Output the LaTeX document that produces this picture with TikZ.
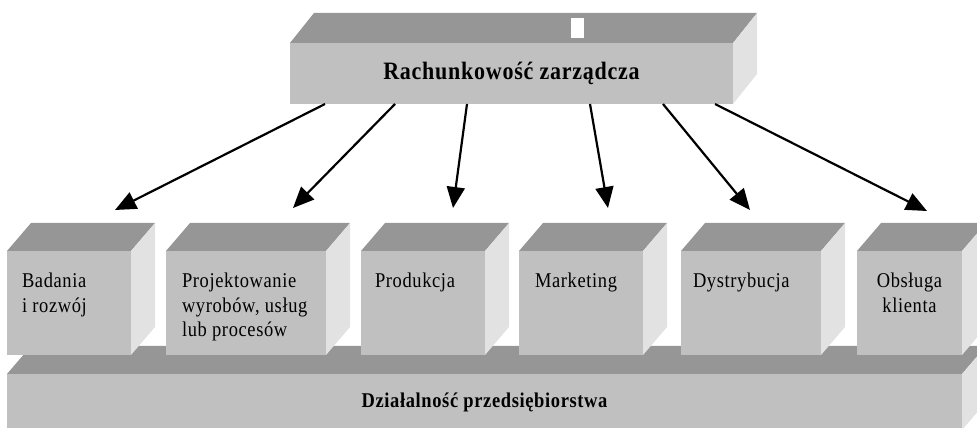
\documentclass[tikz,border=0pt]{standalone}
\usepackage{fontspec}
\setmainfont{Liberation Serif}
\newfontfamily\narrowserif[FakeStretch=0.88,LetterSpace=3]{Liberation Serif}
\usetikzlibrary{arrows.meta,calc}

\definecolor{frontc}{RGB}{192,192,192}
\definecolor{topc}{RGB}{150,150,150}
\definecolor{sidec}{RGB}{226,226,226}

\tikzset{
  face/.style={rectangle, fill=frontc, draw=none, inner sep=0pt, outer sep=0pt, anchor=south west},
  unit/.style={face, minimum height=104pt},
  lbl/.style={inner sep=0pt, outer sep=0pt, align=left, anchor=north west,
              font=\narrowserif\fontsize{21}{24.5}\selectfont},
  flow/.style={line width=2.2pt, -{Triangle[length=21pt,width=18pt]}},
}

% top and side faces of a block seen from the front right
\newcommand{\blockfaces}[3]{%
  \fill[topc] (#1.north west) -- ++(#2,#3) -- ([shift={(#2,#3)}]#1.north east) -- (#1.north east) -- cycle;
  \fill[sidec] (#1.north east) -- ++(#2,#3) -- ([shift={(#2,#3)}]#1.south east) -- (#1.south east) -- cycle;
}

\begin{document}
\begin{tikzpicture}[x=1pt,y=1pt]
\useasboundingbox (0,0) rectangle (977,428);
\clip (0,0) rectangle (977,428);

% base: company activity
\node[face, minimum width=955pt, minimum height=56pt,
      font=\narrowserif\fontsize{21}{24}\selectfont\bfseries] (base) at (7,-2) {Działalność przedsiębiorstwa};
\blockfaces{base}{24pt}{28pt}

% functional units standing on the base
\node[unit, minimum width=124pt] (b1) at (7,73) {};
\node[unit, minimum width=160pt] (b2) at (166,73) {};
\node[unit, minimum width=124pt] (b3) at (361,73) {};
\node[unit, minimum width=124pt] (b4) at (519,73) {};
\node[unit, minimum width=140pt] (b5) at (681,73) {};
\node[unit, minimum width=105pt] (b6) at (857,73) {};
\foreach \n in {b1,b2,b3,b4,b5,b6} {\blockfaces{\n}{24pt}{28pt}}

\node[lbl] (t1) at ([shift={(15pt,-22pt)}]b1.north west) {Badania\\i rozwój};
\node[lbl] (t2) at ([shift={(16pt,-22pt)}]b2.north west) {Projektowanie\\wyrobów, usług\\lub procesów};
\node[lbl] (t3) at ([shift={(14pt,-22pt)}]b3.north west) {Produkcja};
\node[lbl] (t4) at ([shift={(16pt,-22pt)}]b4.north west) {Marketing};
\node[lbl] (t5) at ([shift={(12pt,-22pt)}]b5.north west) {Dystrybucja};
\node[lbl, align=center, anchor=north] (t6) at ([shift={(0pt,-22pt)}]b6.north) {Obsługa\\klienta};

% management accounting block
\node[face, minimum width=443pt, minimum height=61pt,
      font=\narrowserif\fontsize{25}{30}\selectfont\bfseries] (ma) at (290,324) {Rachunkowość zarządcza};
\blockfaces{ma}{24pt}{30pt}
\fill[white] (571,390) rectangle (584,410);

% flows from management accounting to each unit
\coordinate (e1) at ([shift={(108pt,41pt)}]b1.north west);
\coordinate (e2) at ([shift={(127pt,43pt)}]b2.north west);
\coordinate (e3) at ([shift={(92pt,43pt)}]b3.north west);
\coordinate (e4) at ([shift={(89pt,43pt)}]b4.north west);
\coordinate (e5) at ([shift={(69pt,41pt)}]b5.north west);
\coordinate (e6) at ([shift={(70pt,40pt)}]b6.north west);

\draw[flow] ([xshift=35pt]ma.south west) -- (e1);
\draw[flow] ([xshift=105pt]ma.south west) -- (e2);
\draw[flow] ([xshift=177pt]ma.south west) -- (e3);
\draw[flow] ([xshift=300pt]ma.south west) -- (e4);
\draw[flow] ([xshift=373pt]ma.south west) -- (e5);
\draw[flow] ([xshift=425pt]ma.south west) -- (e6);
\end{tikzpicture}
\end{document}
